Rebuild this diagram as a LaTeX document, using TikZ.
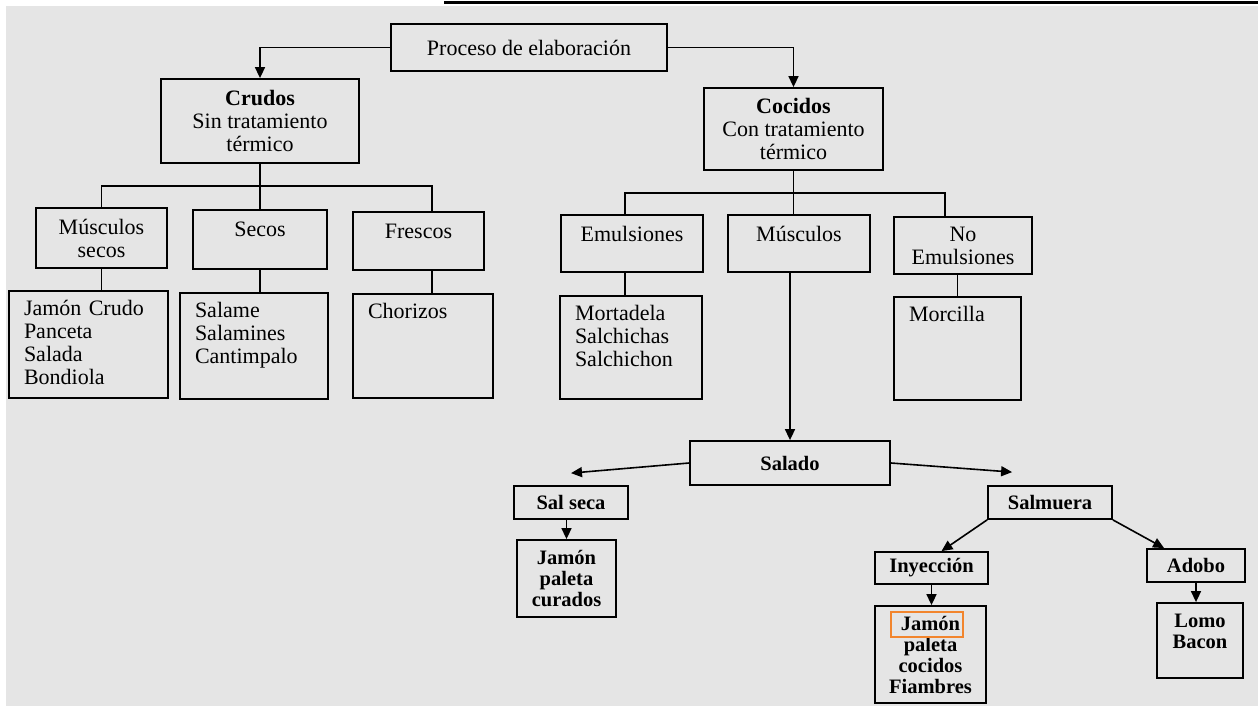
\documentclass[tikz,border=0pt]{standalone}
\usepackage{fontspec}
\setmainfont{Liberation Serif}
\definecolor{Naranja}{RGB}{242, 133, 45}
\definecolor{Papel}{RGB}{229, 229, 229}
\usepackage{tikz}
\usetikzlibrary{arrows.meta, positioning}

\begin{document}
\begin{tikzpicture}[
        x=1pt, y=-1pt,
        caja/.style={rectangle, draw=black, line width=1.8pt, inner sep=0pt, align=center, font=\fontsize{22}{23}\selectfont},
        fila/.style={caja, text height=26pt},
        lista/.style={caja, align=left, inner xsep=15pt, text height=24pt},
        abajo/.style={caja, font=\fontsize{20.5}{21}\selectfont\bfseries},
        listac/.style={abajo, text height=24pt},
        marca/.style={rectangle, draw=Naranja, line width=2pt, minimum width=72pt, minimum height=25pt},
        linea/.style={line width=1.6pt},
        flecha/.style={linea, -{Triangle[length=11pt,width=10pt]}}
    ]
        % Hoja
        \useasboundingbox (0,0) rectangle (1258,706);
        \fill[white] (0,0) rectangle (1258,706);
        \fill[Papel] (6,6) rectangle (1258,706);
        \draw[line width=3pt] (444,3) -- (1258,3);

        % Raiz
        \node[caja, minimum width=276pt, minimum height=47pt] (proceso) at (529,47.5) {Proceso de elaboración};

        % Crudos / Cocidos
        \node[caja, minimum width=198pt, minimum height=84pt] (crudos) at (260,121) {\textbf{Crudos}\\Sin tratamiento\\térmico};
        \node[caja, minimum width=179pt, minimum height=82pt] (cocidos) at (793.5,129) {\textbf{Cocidos}\\Con tratamiento\\térmico};

        % Tipos
        \node[caja, minimum width=131pt, minimum height=60pt] (msecos) at (101.5,238) {Músculos\\secos};
        \node[fila, minimum width=134pt, text depth=33pt] (secos) at (260,239.5) {Secos};
        \node[fila, minimum width=131pt, text depth=32pt] (frescos) at (418.5,241) {Frescos};
        \node[fila, minimum width=142pt, text depth=31pt] (emul) at (632,243.5) {Emulsiones};
        \node[fila, minimum width=142pt, text depth=31pt] (musc) at (799,243.5) {Músculos};
        \node[caja, minimum width=138pt, minimum height=57pt] (noemul) at (963,245.5) {No\\Emulsiones};

        % Productos
        \node[lista, text width=129pt, text depth=83pt] (jcrudo) at (88.5,344.5) {Jamón Crudo\\Panceta\\Salada\\Bondiola};
        \node[lista, text width=118pt, text depth=82pt] (salame) at (254,346) {Salame\\Salamines\\Cantimpalo};
        \node[lista, text width=110pt, text depth=80pt] (chorizos) at (423,346) {Chorizos};
        \node[lista, text width=112pt, text depth=79pt] (mortadela) at (631,347.5) {Mortadela\\Salchichas\\Salchichon};
        \node[lista, text width=97pt, text depth=79pt] (morcilla) at (957.5,348.5) {Morcilla};

        % Salado
        \node[abajo, minimum width=200pt, minimum height=44pt] (salado) at (790,463) {Salado};
        \node[abajo, minimum width=114pt, minimum height=33pt] (salseca) at (571,502.5) {Sal seca};
        \node[abajo, minimum width=124pt, minimum height=33pt] (salmuera) at (1050,502.5) {Salmuera};
        \node[abajo, minimum width=113pt, minimum height=32pt] (inyec) at (931.5,568) {Inyección};
        \node[abajo, minimum width=98pt, minimum height=33pt] (adobo) at (1196,565.5) {Adobo};
        \node[listac, text width=99pt, text depth=53pt] (jpcur) at (566.5,578.5) {Jamón\\paleta\\curados};
        \node[listac, text width=111pt, text depth=73pt] (jpcoc) at (930.5,654.5) {Jamón\\paleta\\cocidos\\Fiambres};
        \node[listac, text width=86pt, text depth=51pt] (lomo) at (1200,640.5) {Lomo\\Bacon};
        \node[marca, below=6pt of jpcoc.north, xshift=-4pt] (resalte) {};

        % Flechas
        \draw[flecha] (proceso.west) -| (crudos.north);
        \draw[flecha] (proceso.east) -| (cocidos.north);

        \coordinate (barcru) at (0,186);
        \coordinate (fre) at ([xshift=13.5pt]frescos.north);
        \draw[linea] (crudos.south) -- (crudos.south |- barcru);
        \draw[linea] (msecos.north) |- (fre |- barcru) -- (fre);
        \draw[linea] (secos.north) -- (secos.north |- barcru);

        \coordinate (barcoc) at (0,193);
        \coordinate (emu) at ([xshift=-7pt]emul.north);
        \coordinate (noe) at ([xshift=-18pt]noemul.north);
        \draw[linea] (cocidos.south) -- (cocidos.south |- musc.north);
        \draw[linea] (emu) |- (noe |- barcoc) -- (noe);

        \draw[linea] (msecos.south) -- (msecos.south |- jcrudo.north);
        \draw[linea] (secos.south) -- (secos.south |- salame.north);
        \draw[linea] (fre |- frescos.south) -- (fre |- chorizos.north);
        \draw[linea] (emu |- emul.south) -- (emu |- mortadela.north);
        \draw[linea] (morcilla.north |- noemul.south) -- (morcilla.north);

        \draw[flecha] (salado.north |- musc.south) -- (salado.north);
        \draw[flecha] (salado.west) -- ([yshift=12pt]salseca.north);
        \draw[flecha] (salado.east) -- ([xshift=25pt,yshift=13pt]salmuera.north west);
        \draw[flecha] (jpcur.north |- salseca.south) -- (jpcur.north);
        \draw[flecha] (salmuera.south west) -- ([xshift=10pt]inyec.north);
        \draw[flecha] (salmuera.south east) -- ([xshift=18pt]adobo.north west);
        \draw[flecha] (inyec.south) -- (inyec.south |- jpcoc.north);
        \draw[flecha] (adobo.south) -- (adobo.south |- lomo.north);
    \end{tikzpicture}
\end{document}
